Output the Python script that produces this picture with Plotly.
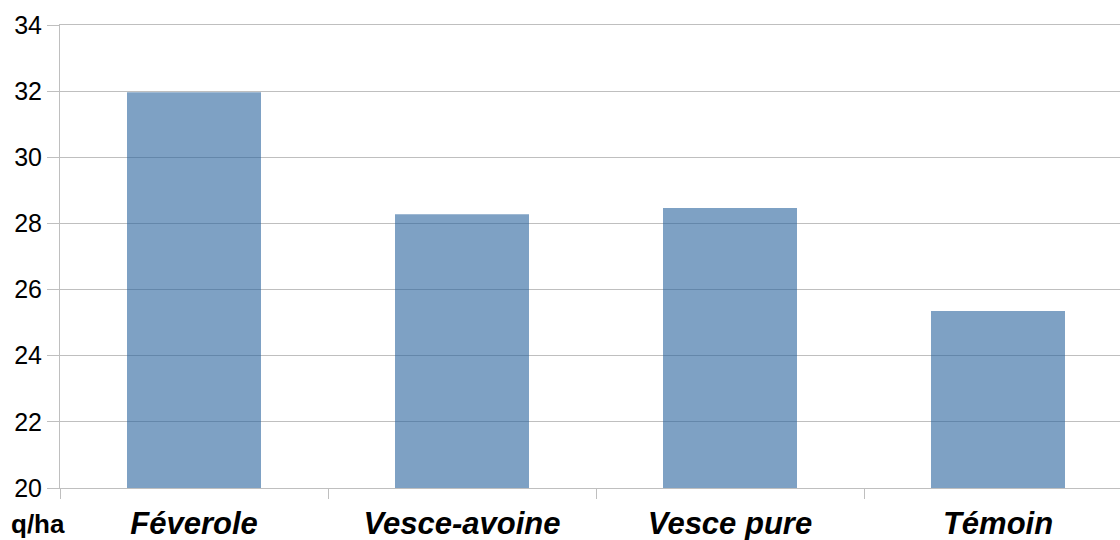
import plotly.graph_objects as go

categories = ["Féverole", "Vesce-avoine", "Vesce pure", "Témoin"]
values = [31.97, 28.28, 28.47, 25.35]
y_ticks = [20, 22, 24, 26, 28, 30, 32, 34]
unit_label = "q/ha"

grid = "#bfbfbf"

fig = go.Figure()
fig.add_trace(go.Bar(
    x=categories, y=values, width=0.5,
    marker=dict(color="rgba(40,98,157,0.6)", line=dict(width=0)),
))

fig.update_layout(
    width=1132, height=540,
    margin=dict(l=60, r=0, t=25, b=52),
    paper_bgcolor="white", plot_bgcolor="white",
    showlegend=False,
    font=dict(family="Liberation Sans, Arial, sans-serif", color="black"),
)
fig.update_yaxes(
    range=[20, 34], tickvals=y_ticks, ticktext=[str(v) for v in y_ticks],
    showgrid=True, gridcolor=grid, gridwidth=1,
    ticks="outside", ticklen=12, tickcolor=grid,
    showline=True, linecolor=grid, linewidth=1,
    tickfont=dict(size=25, color="black"), zeroline=False,
)
fig.update_xaxes(
    type="category", range=[-0.5, 3.5],
    tickson="boundaries", ticks="outside", ticklen=10, tickcolor=grid,
    showline=True, mirror=True, linecolor=grid, linewidth=1, showgrid=False,
    tickfont=dict(size=31, family="Liberation Sans, Arial, sans-serif", color="black"),
    ticklabelstandoff=8,
    tickvals=categories,
    ticktext=["<b><i>" + c + "</i></b>" for c in categories],
)
fig.add_annotation(
    text="<b>" + unit_label + "</b>", xref="paper", yref="paper",
    x=0, y=0, xanchor="center", yanchor="middle", xshift=-22, yshift=-36,
    showarrow=False, font=dict(size=26, color="black"),
)
fig.write_html(
    "out.html",
    config={"displayModeBar": False},
    post_script="document.body.style.margin='0';document.body.style.overflow='hidden';",
)
